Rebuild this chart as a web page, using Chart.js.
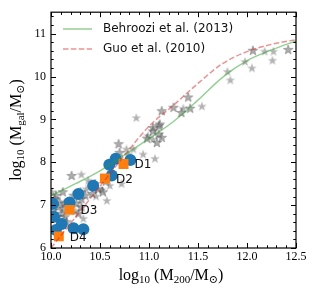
<!DOCTYPE html>
<html>
<head>
<meta charset="utf-8">
<script src="https://cdn.jsdelivr.net/npm/chart.js@4.4.0/dist/chart.umd.min.js"></script>
<style>
  html, body { margin: 0; padding: 0; background: #fff; }
  #wrap { width: 318px; height: 297px; }
</style>
</head>
<body>
<div id="wrap"><canvas id="smhm" width="318" height="297"></canvas></div>
<script>
// масса гало против звёздной массы

const X_TICKS = [10.0, 10.5, 11.0, 11.5, 12.0, 12.5];
const Y_TICKS = [6, 7, 8, 9, 10, 11];

const curveMass = [10.0, 10.25, 10.5, 10.75, 11.0, 11.25, 11.5, 11.75, 12.0, 12.25, 12.5];
const behroozi  = [7.22, 7.50, 7.80, 8.17, 8.55, 8.95, 9.45, 9.98, 10.37, 10.62, 10.83];
const guo       = [6.00, 6.72, 7.44, 8.16, 8.84, 9.33, 9.84, 10.30, 10.58, 10.75, 10.86];

const starsLight = [
  [12.27, 10.58], [12.18, 10.58], [12.26, 10.37], [11.98, 10.34], [12.05, 10.19],
  [11.80, 10.11], [11.83, 9.91], [11.54, 9.30], [10.87, 9.03], [10.77, 8.30],
  [10.94, 8.18], [11.06, 8.08], [10.79, 8.18], [10.31, 7.71], [10.38, 7.57],
  [10.57, 7.10], [10.36, 7.37], [10.01, 7.30], [10.33, 6.68], [10.72, 7.49],
  [10.60, 7.45], [10.84, 8.30], [11.35, 9.25], [11.04, 8.53], [10.99, 8.61],
  [10.52, 7.35], [10.25, 6.85], [10.46, 7.20]
];
const starsDark = [
  [12.42, 10.62], [12.06, 10.60], [11.40, 9.51], [11.25, 9.27], [11.42, 9.25],
  [11.33, 9.15], [11.13, 9.19], [11.11, 8.88], [11.04, 8.80], [11.10, 8.84],
  [11.04, 8.72], [11.10, 8.65], [11.13, 8.57], [10.69, 8.42], [10.21, 7.68],
  [10.45, 7.49], [10.53, 7.30], [10.04, 7.14], [10.09, 7.06], [10.07, 6.95],
  [10.13, 6.91], [10.14, 7.03], [10.11, 6.80], [10.06, 6.72], [10.14, 6.72],
  [10.16, 6.60], [10.09, 6.60], [10.02, 6.87], [10.26, 7.03], [10.31, 6.95],
  [10.28, 6.80], [10.31, 7.14], [10.35, 7.22], [10.23, 7.22], [10.30, 7.30],
  [10.42, 7.26], [10.48, 7.37], [10.05, 7.22], [10.12, 7.30], [10.70, 8.22],
  [10.56, 7.55], [11.08, 8.45], [10.98, 8.55]
];
const circles = [
  [10.02, 7.03], [10.03, 6.73], [10.11, 6.56], [10.05, 6.42], [10.19, 7.06],
  [10.28, 7.26], [10.43, 7.45], [10.23, 6.46], [10.33, 6.44], [10.595, 7.94],
  [10.66, 8.08], [10.81, 8.05], [10.62, 7.69]
];
const dwarfNames = ["D1", "D2", "D3", "D4"];
const dwarfs = [[10.74, 7.96], [10.55, 7.62], [10.19, 6.89], [10.08, 6.27]];

const X_MINOR = 0.1;
const Y_MINOR = 0.2;

function starImage(r, fill, stroke) {
  const c = document.createElement("canvas");
  const s = Math.ceil(r * 2 + 2);
  c.width = c.height = s;
  const g = c.getContext("2d");
  g.beginPath();
  for (let i = 0; i < 10; i++) {
    const rad = i % 2 ? r * 0.4 : r;
    const a = -Math.PI / 2 + i * Math.PI / 5;
    g.lineTo(s / 2 + rad * Math.cos(a), s / 2 + rad * Math.sin(a));
  }
  g.closePath();
  g.fillStyle = fill;
  g.fill();
  if (stroke) {
    g.strokeStyle = stroke;
    g.lineWidth = 0.6;
    g.stroke();
  }
  return c;
}

const pts = arr => arr.map(p => ({ x: p[0], y: p[1] }));

function richText(ctx, parts, cx, cy, rotate) {
  const main = '16px "Liberation Serif", serif';
  const sub = '11px "Liberation Serif", "DejaVu Serif", serif';
  let w = 0;
  parts.forEach(([t, s]) => { ctx.font = s ? sub : main; w += ctx.measureText(t).width; });
  ctx.save();
  ctx.translate(cx, cy);
  if (rotate) ctx.rotate(-Math.PI / 2);
  ctx.fillStyle = "#000";
  ctx.textBaseline = "middle";
  ctx.textAlign = "left";
  let x = -w / 2;
  parts.forEach(([t, s]) => {
    ctx.font = s ? sub : main;
    ctx.fillText(t, x, s ? 4 : 0);
    x += ctx.measureText(t).width;
  });
  ctx.restore();
}

const decorPlugin = {
  id: "decor",
  afterDraw(chart) {
    const { ctx, chartArea: a, scales: { x, y } } = chart;
    ctx.save();

    // рамка и засечки внутрь
    ctx.strokeStyle = "#000";
    ctx.lineWidth = 1.2;
    ctx.strokeRect(a.left, a.top, a.right - a.left, a.bottom - a.top);
    ctx.lineWidth = 1;
    ctx.beginPath();
    for (let v = x.min; v <= x.max + 1e-9; v += X_MINOR) {
      const major = X_TICKS.some(t => Math.abs(t - v) < 1e-6);
      const len = major ? 5 : 2.7;
      const px = Math.round(x.getPixelForValue(v)) + 0.5;
      ctx.moveTo(px, a.bottom); ctx.lineTo(px, a.bottom - len);
      ctx.moveTo(px, a.top); ctx.lineTo(px, a.top + len);
    }
    for (let v = y.min; v <= y.max + 1e-9; v += Y_MINOR) {
      const major = Y_TICKS.some(t => Math.abs(t - v) < 1e-6);
      const len = major ? 5 : 2.7;
      const py = Math.round(y.getPixelForValue(v)) + 0.5;
      ctx.moveTo(a.left, py); ctx.lineTo(a.left + len, py);
      ctx.moveTo(a.right, py); ctx.lineTo(a.right - len, py);
    }
    ctx.stroke();

    // легенда
    ctx.lineWidth = 1.5;
    ctx.strokeStyle = "rgba(44,160,44,0.5)";
    ctx.beginPath(); ctx.moveTo(a.left + 12, 29); ctx.lineTo(a.left + 41, 29); ctx.stroke();
    ctx.strokeStyle = "rgba(214,39,40,0.5)";
    ctx.setLineDash([5.5, 2.4]);
    ctx.beginPath(); ctx.moveTo(a.left + 12, 49); ctx.lineTo(a.left + 41, 49); ctx.stroke();
    ctx.setLineDash([]);
    ctx.fillStyle = "#111";
    ctx.font = '12px "DejaVu Sans"';
    ctx.textBaseline = "middle";
    ctx.textAlign = "left";
    ctx.fillText("Behroozi et al. (2013)", a.left + 52, 29);
    ctx.fillText("Guo et al. (2010)", a.left + 52, 49);

    // подписи карликов
    dwarfs.forEach((d, i) => {
      ctx.fillText(dwarfNames[i], x.getPixelForValue(d[0]) + 11, y.getPixelForValue(d[1]) + 1);
    });
    ctx.restore();

    richText(ctx, [["log", 0], ["10", 1], [" (M", 0], ["200", 1], ["/M", 0], ["\u2299", 1], [")", 0]], 171, 276, false);
    richText(ctx, [["log", 0], ["10", 1], [" (M", 0], ["gal", 1], ["/M", 0], ["\u2299", 1], [")", 0]], 17, 130, true);
  }
};

const tickFont = { family: '"Liberation Serif", serif', size: 12 };

new Chart(document.getElementById("smhm"), {
  type: "scatter",
  data: {
    datasets: [
      {
        label: "Behroozi et al. (2013)",
        data: curveMass.map((m, i) => ({ x: m, y: behroozi[i] })),
        showLine: true,
        borderColor: "rgba(44,160,44,0.5)",
        borderWidth: 1.5,
        pointRadius: 0,
        cubicInterpolationMode: "monotone",
        order: 0
      },
      {
        label: "Guo et al. (2010)",
        data: curveMass.map((m, i) => ({ x: m, y: guo[i] })),
        showLine: true,
        borderColor: "rgba(214,39,40,0.5)",
        borderWidth: 1.5,
        borderDash: [5.5, 2.4],
        pointRadius: 0,
        cubicInterpolationMode: "monotone",
        order: 1
      },
      {
        data: pts(dwarfs),
        pointStyle: "rect",
        pointRadius: 7,
        backgroundColor: "#ff7f0e",
        borderWidth: 0,
        order: 2
      },
      {
        data: pts(circles),
        pointRadius: 6,
        backgroundColor: "#1f77b4",
        borderWidth: 0,
        order: 3
      },
      {
        data: pts(starsDark),
        pointStyle: starImage(5, "rgba(105,105,105,0.55)", "rgba(40,40,40,0.5)"),
        order: 4
      },
      {
        data: pts(starsLight),
        pointStyle: starImage(5, "rgba(128,128,128,0.6)", null),
        order: 5
      }
    ]
  },
  options: {
    responsive: false,
    animation: false,
    devicePixelRatio: 1,
    layout: { padding: { left: 0, right: 22, top: 10, bottom: 0 } },
    plugins: { legend: { display: false }, tooltip: { enabled: false } },
    scales: {
      x: {
        type: "linear",
        min: 10.0,
        max: 12.5,
        afterFit: s => { s.height = 49; },
        afterBuildTicks: s => { s.ticks = X_TICKS.map(v => ({ value: v })); },
        grid: { display: false, drawTicks: false },
        border: { display: false },
        ticks: {
          font: tickFont, color: "#000", padding: 2, autoSkip: false, maxRotation: 0,
          callback: v => Number(v).toFixed(1)
        }
      },
      y: {
        type: "linear",
        min: 6,
        max: 11.5,
        afterFit: s => { s.width = 51; },
        afterBuildTicks: s => { s.ticks = Y_TICKS.map(v => ({ value: v })); },
        grid: { display: false, drawTicks: false },
        border: { display: false },
        ticks: { font: tickFont, color: "#000", padding: 5, callback: v => String(v) }
      }
    }
  },
  plugins: [decorPlugin]
});
</script>
</body>
</html>
